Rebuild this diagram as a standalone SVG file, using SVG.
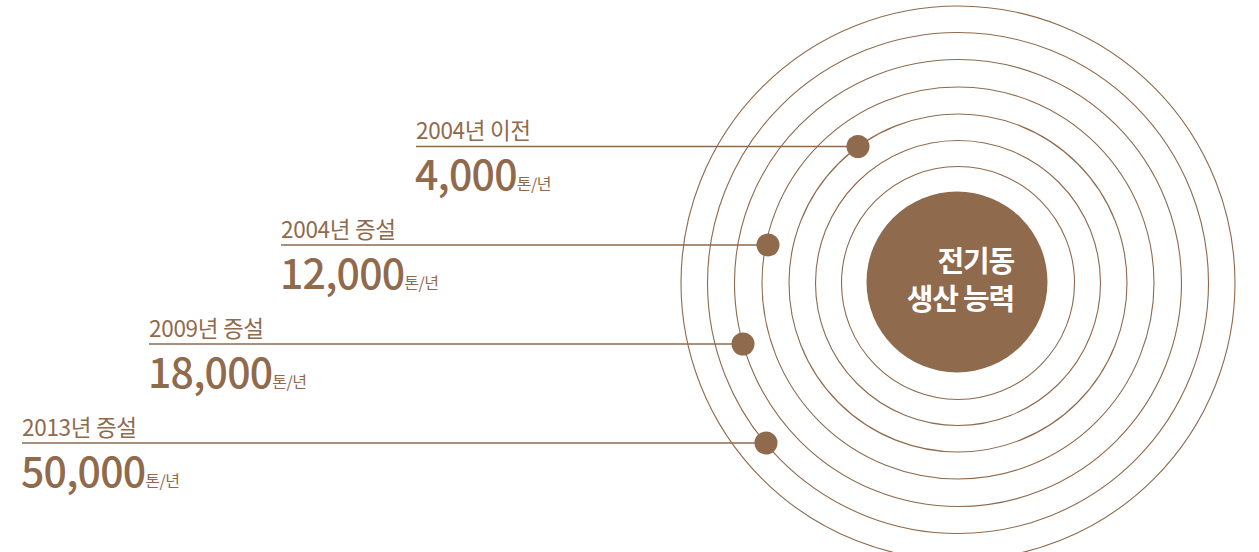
<svg xmlns="http://www.w3.org/2000/svg" width="1259" height="552" viewBox="0 0 1259 552">
<style>
.ring{fill:none;stroke:#8f6a4d;stroke-width:1.1}
.conn{stroke:#8f6a4d;stroke-width:1.3;fill:none}
.dot{fill:#8f6a4d}
.lbl{font-family:"Noto Sans CJK KR","Noto Sans",sans-serif;fill:#8f6a4d;font-size:22.5px;letter-spacing:-0.3px}
.num{font-family:"Noto Sans CJK KR","Noto Sans",sans-serif;fill:#8f6a4d;font-size:41px;font-weight:500;letter-spacing:-0.8px}
.unit{font-size:16px;font-weight:400;letter-spacing:-0.5px}
.core{font-family:"Noto Sans CJK KR","Noto Sans",sans-serif;fill:#ffffff;font-size:29px;font-weight:700;letter-spacing:-1.2px;text-anchor:end}
</style>
<rect width="1259" height="552" fill="#ffffff"/>
<g id="rings">
<circle class="ring" cx="958" cy="283" r="277"/>
<circle class="ring" cx="958" cy="283" r="250.5"/>
<circle class="ring" cx="958" cy="283" r="223.5"/>
<circle class="ring" cx="958" cy="283" r="196"/>
<circle class="ring" cx="958" cy="283" r="169"/>
<circle class="ring" cx="958" cy="283" r="142.5"/>
<circle class="ring" cx="958" cy="283" r="116.5"/>
</g>
<g id="core">
<circle cx="957" cy="282" r="90.5" fill="#8f6a4d"/>
<text class="core" x="1014" y="272">전기동</text>
<text class="core" x="1014" y="310">생산 능력</text>
</g>
<g id="connectors">
<line class="conn" x1="416" y1="146.5" x2="858" y2="146.5"/>
<line class="conn" x1="281" y1="245" x2="768" y2="245"/>
<line class="conn" x1="149" y1="344" x2="743" y2="344"/>
<line class="conn" x1="22" y1="443" x2="766" y2="443"/>
</g>
<g id="dots">
<circle class="dot" cx="858" cy="146.5" r="11.5"/>
<circle class="dot" cx="768" cy="245" r="11.5"/>
<circle class="dot" cx="743" cy="344" r="11.5"/>
<circle class="dot" cx="766" cy="443" r="11.5"/>
</g>
<g id="label-2004-before">
<text class="lbl" x="416" y="139">2004년 이전</text>
<text class="num" x="415" y="190">4,000<tspan class="unit">톤/년</tspan></text>
</g>
<g id="label-2004-add">
<text class="lbl" x="281" y="238">2004년 증설</text>
<text class="num" x="280" y="289">12,000<tspan class="unit">톤/년</tspan></text>
</g>
<g id="label-2009-add">
<text class="lbl" x="149" y="337">2009년 증설</text>
<text class="num" x="148" y="388">18,000<tspan class="unit">톤/년</tspan></text>
</g>
<g id="label-2013-add">
<text class="lbl" x="22" y="435.5">2013년 증설</text>
<text class="num" x="21" y="487">50,000<tspan class="unit">톤/년</tspan></text>
</g>
</svg>
